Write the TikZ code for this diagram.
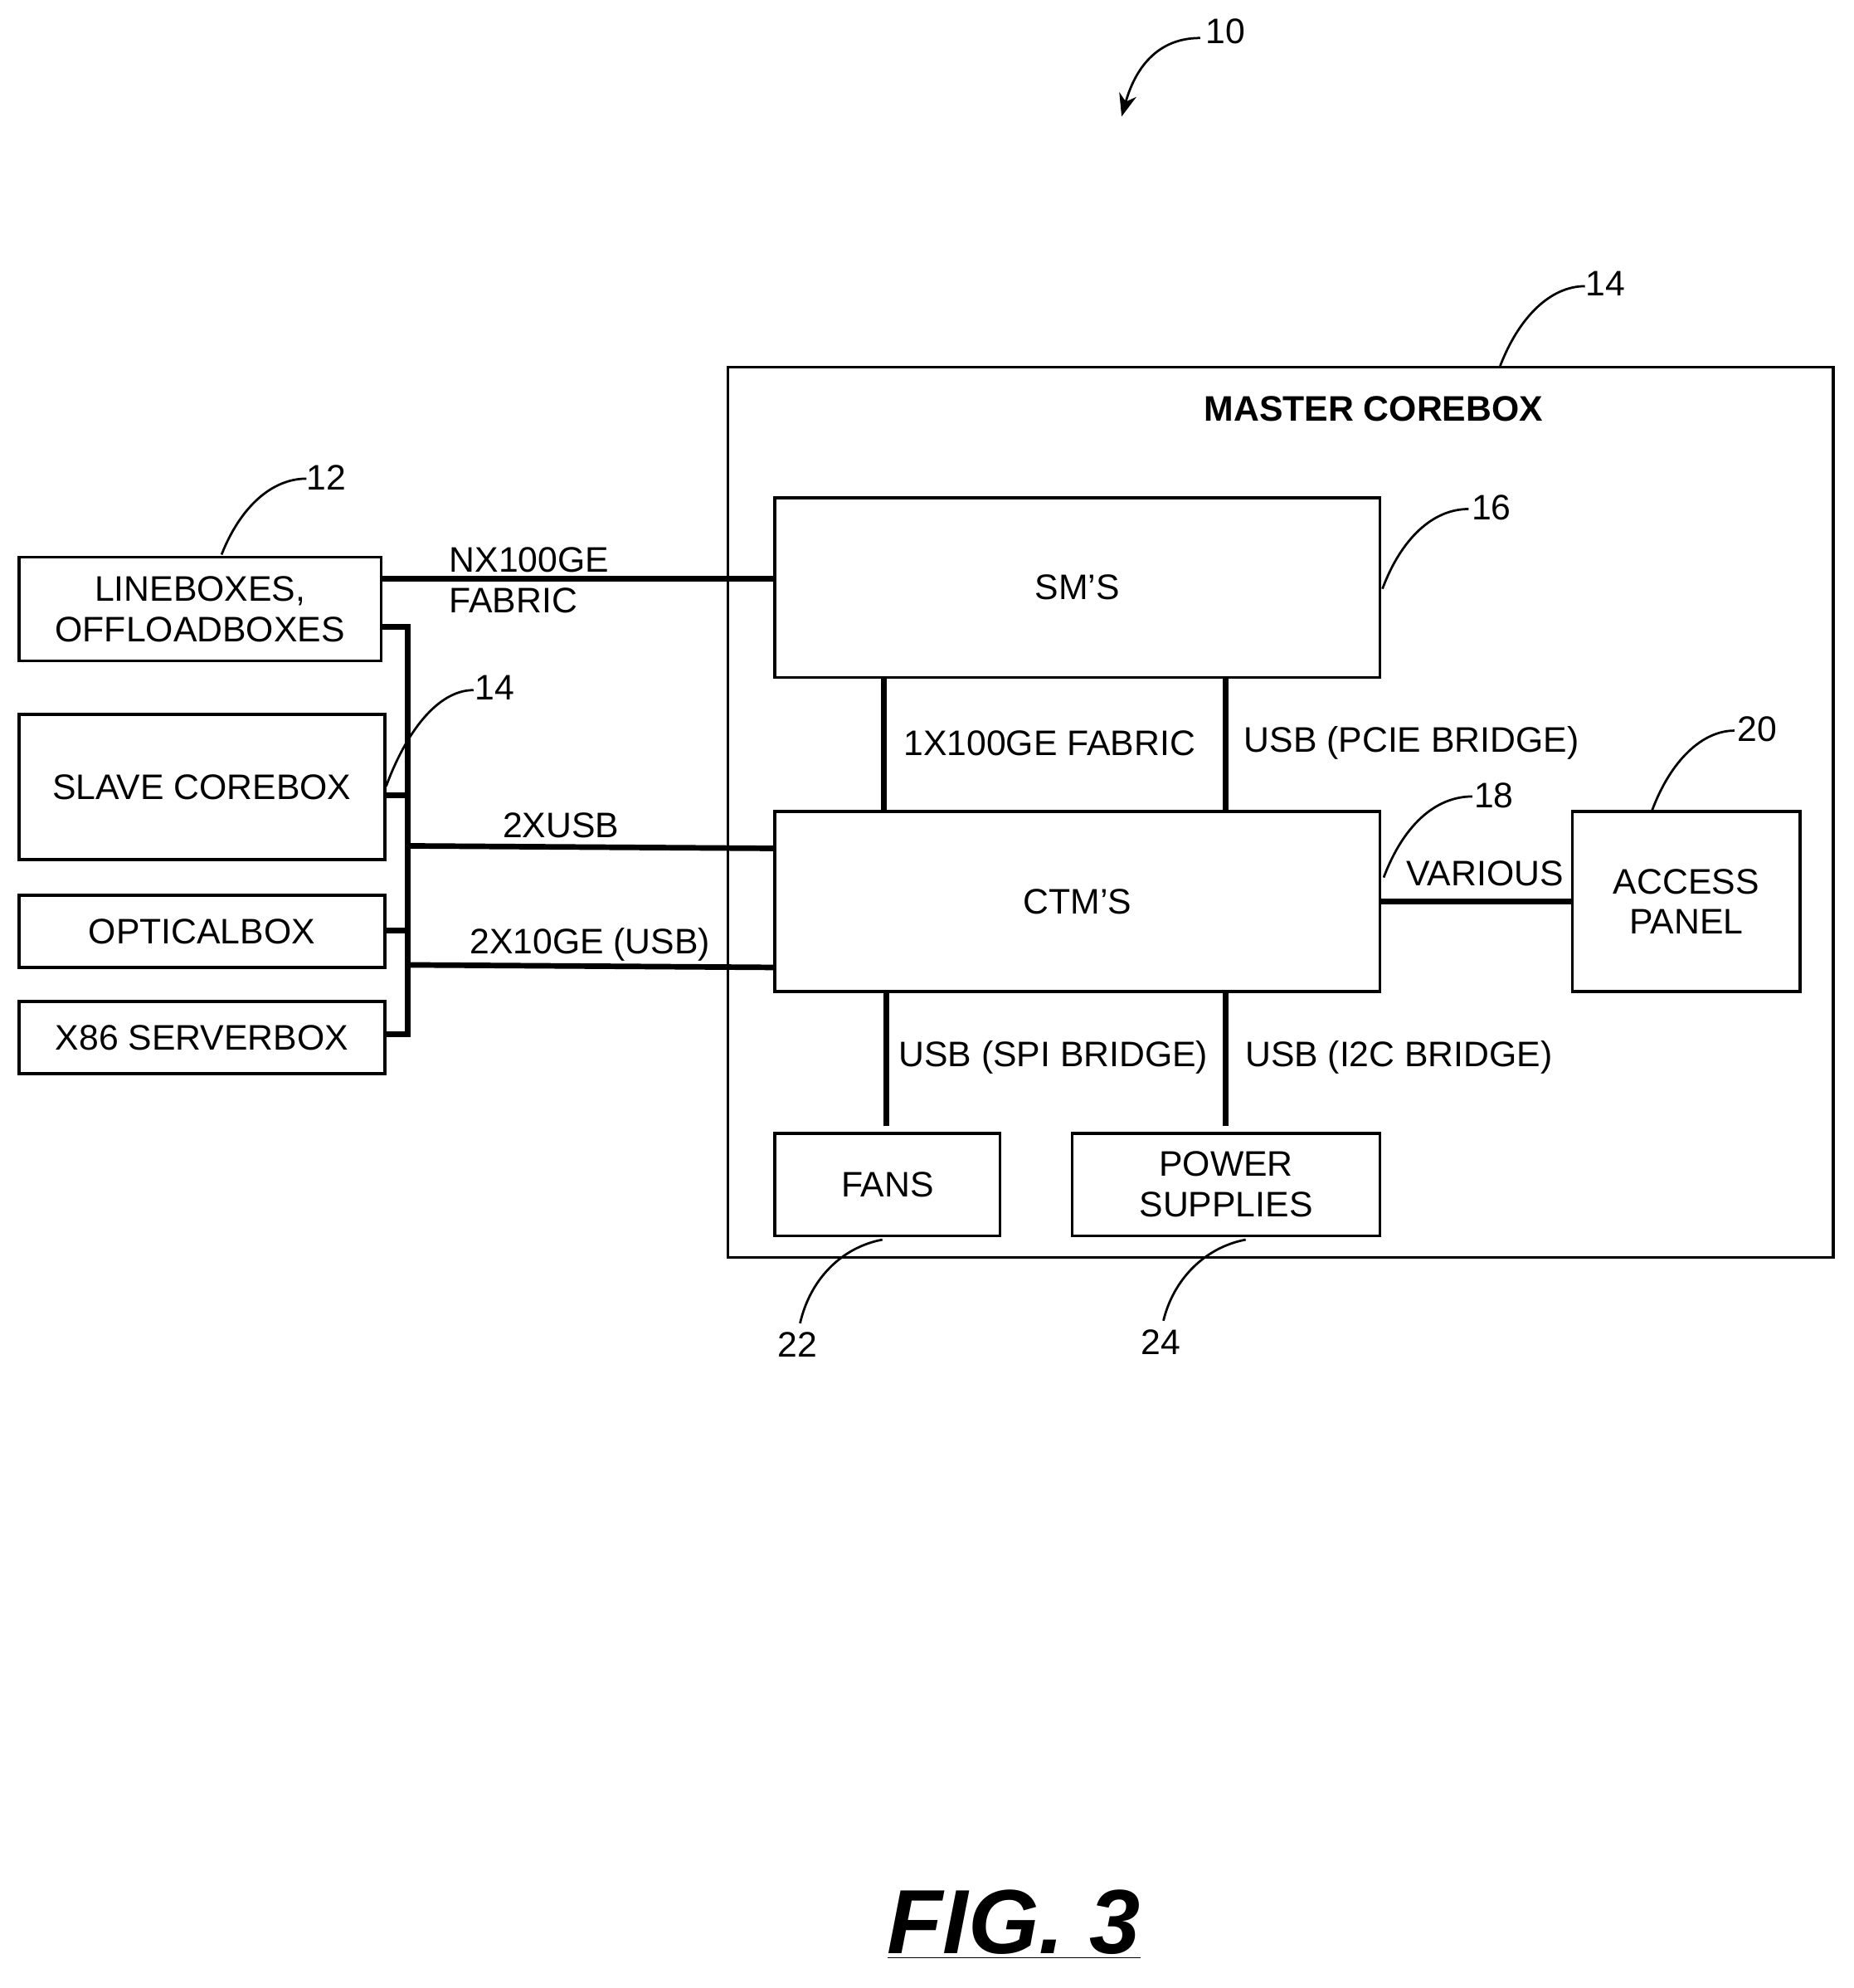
\documentclass[tikz,border=0pt]{standalone}
\usepackage{fontspec}
\setmainfont{Liberation Sans}
\usetikzlibrary{arrows.meta}
\begin{document}
\begin{tikzpicture}[x=0.5pt,y=-0.5pt,
  box/.style={draw,line width=1.2pt,font=\fontsize{14}{16}\selectfont,align=center},
  lbl/.style={font=\fontsize{14}{16}\selectfont,align=left,inner sep=1pt},
  thick line/.style={line width=2.2pt},
  lead/.style={line width=0.9pt}]
\useasboundingbox (0,0) rectangle (1464,1570);
% master
\draw[line width=1.2pt] (575,290) rectangle (1448,993);
\node[font=\fontsize{14}{16}\selectfont\bfseries] (mt) at (1085,323) {MASTER COREBOX};
\newcommand{\bx}[4]{\draw[line width=1.2pt] (#2) rectangle (#3); \path (#2) -- node[box,draw=none,inner sep=0] (#1) {#4} (#3);}
\bx{sm}{612,393}{1090,535}{SM’S}
\bx{ctm}{612,641}{1090,783}{CTM’S}
\bx{acc}{1242,641}{1422,783}{ACCESS\\PANEL}
\bx{fans}{612,895}{790,976}{FANS}
\bx{pow}{847,895}{1090,976}{POWER\\SUPPLIES}
\bx{line}{15,440}{301,522}{LINEBOXES,\\OFFLOADBOXES}
\bx{slave}{15,564}{304,679}{SLAVE COREBOX}
\bx{opt}{15,707}{304,764}{OPTICALBOX}
\bx{x86}{15,791}{304,848}{X86 SERVERBOX}
% bus
\coordinate (bt) at (322,495); \coordinate (bb) at (322,817);
\draw[thick line] (301,495) -- (bt) -- (bb) -- (304,817);
\draw[thick line] (304,628) -- (322,628);
\draw[thick line] (304,735) -- (322,735);
\draw[thick line] (301,457) -- (612,457);
\draw[thick line] (322,668) -- (612,670);
\draw[thick line] (322,762) -- (612,764);
\node[lbl] (l1) at (418,458) {NX100GE\\FABRIC};
\node[lbl] (l2) at (443,652) {2XUSB};
\node[lbl] (l3) at (466,746) {2X10GE (USB)};
% internal
\draw[thick line] (698,535) -- (698,641);
\draw[thick line] (968,535) -- (968,641);
\draw[thick line] (700,783) -- (700,889);
\draw[thick line] (968,783) -- (968,889);
\draw[thick line] (1090,712) -- (1242,712);
\node[lbl] at (829,587) {1X100GE FABRIC};
\node[lbl] at (1115,587) {USB (PCIE BRIDGE)};
\node[lbl] at (832,835) {USB (SPI BRIDGE)};
\node[lbl] at (1105,835) {USB (I2C BRIDGE)};
\node[lbl] at (1173,690) {VARIOUS};
% reference numerals
\node[lbl] (n10) at (968,25) {10};
\draw[lead,-{Stealth[length=9pt,width=7pt]}] (948,30) .. controls (910,30) and (895,60) .. (886,92);
\newcommand{\refl}[5]{\node[lbl] at (#2) {#1}; \draw[lead] (#3) .. controls (#4) .. (#5);}
\node[lbl] (n14) at (1268,224) {14};
\draw[lead] (1185,289) .. controls (1200,250) and (1225,226) .. (1252,226);
\node[lbl] (n12) at (258,377) {12};
\draw[lead] (175,438) .. controls (190,400) and (215,378) .. (242,378);
\node[lbl] (n16) at (1178,401) {16};
\draw[lead] (1092,465) .. controls (1107,425) and (1132,402) .. (1160,402);
\node[lbl] (n14b) at (391,543) {14};
\draw[lead] (305,621) .. controls (320,580) and (345,545) .. (374,545);
\node[lbl] (n20) at (1388,576) {20};
\draw[lead] (1305,640) .. controls (1320,600) and (1345,577) .. (1370,577);
\node[lbl] (n18) at (1180,628) {18};
\draw[lead] (1093,693) .. controls (1108,653) and (1133,629) .. (1163,629);
\node[lbl] (n22) at (630,1062) {22};
\draw[lead] (697,979) .. controls (665,985) and (640,1010) .. (632,1045);
\node[lbl] (n24) at (917,1060) {24};
\draw[lead] (984,979) .. controls (952,985) and (927,1010) .. (919,1043);
\node[font=\fontsize{36}{40}\selectfont\bfseries\itshape] (fig) at (801,1520) {\underline{FIG. 3}};
\end{tikzpicture}
\end{document}
